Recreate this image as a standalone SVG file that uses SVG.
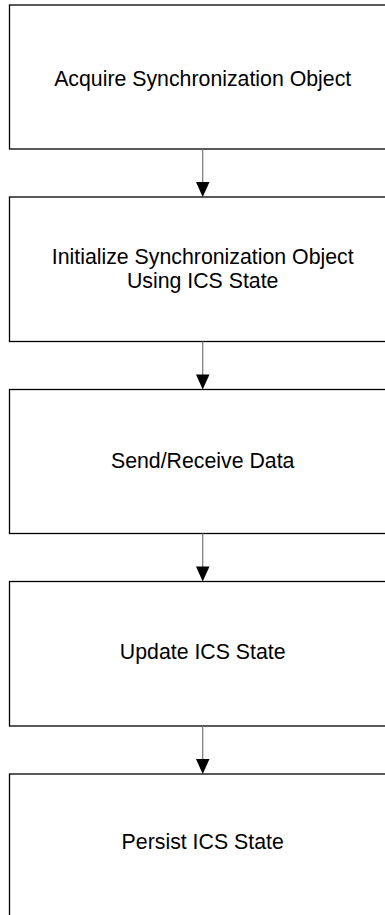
<svg xmlns="http://www.w3.org/2000/svg" width="385" height="915" viewBox="0 0 385 915">
<defs>
<style>
.box{fill:#fff;stroke:#000;stroke-width:1.3}
.lbl{font-family:"Liberation Sans",Arial,sans-serif;font-size:21.3px;fill:#000;text-anchor:middle}
.conn{stroke:#808080;stroke-width:1.3;fill:none}
.head{fill:#000}
</style>
</defs>
<rect width="385" height="915" fill="#fff"/>
<g id="node1"><rect class="box" x="9.5" y="5" width="387" height="144"/><text class="lbl" x="202.7" y="85.5">Acquire Synchronization Object</text></g>
<g id="node2"><rect class="box" x="9.5" y="197" width="387" height="144.5"/><text class="lbl" x="202.7" y="264">Initialize Synchronization Object</text><text class="lbl" x="202.7" y="288">Using ICS State</text></g>
<g id="node3"><rect class="box" x="9.5" y="389.5" width="387" height="144"/><text class="lbl" x="202.7" y="468">Send/Receive Data</text></g>
<g id="node4"><rect class="box" x="9.5" y="581.5" width="387" height="144.5"/><text class="lbl" x="202.7" y="658.5">Update ICS State</text></g>
<g id="node5"><rect class="box" x="9.5" y="774" width="387" height="150"/><text class="lbl" x="202.7" y="848.5">Persist ICS State</text></g>
<g id="connectors">
<line class="conn" x1="202.7" y1="149" x2="202.7" y2="183"/><polygon class="head" points="196,182 209.5,182 202.7,197"/>
<line class="conn" x1="202.7" y1="341.5" x2="202.7" y2="375.5"/><polygon class="head" points="196,374.5 209.5,374.5 202.7,389.5"/>
<line class="conn" x1="202.7" y1="533.5" x2="202.7" y2="567.5"/><polygon class="head" points="196,566.5 209.5,566.5 202.7,581.5"/>
<line class="conn" x1="202.7" y1="726" x2="202.7" y2="760"/><polygon class="head" points="196,759 209.5,759 202.7,774"/>
</g>
</svg>
